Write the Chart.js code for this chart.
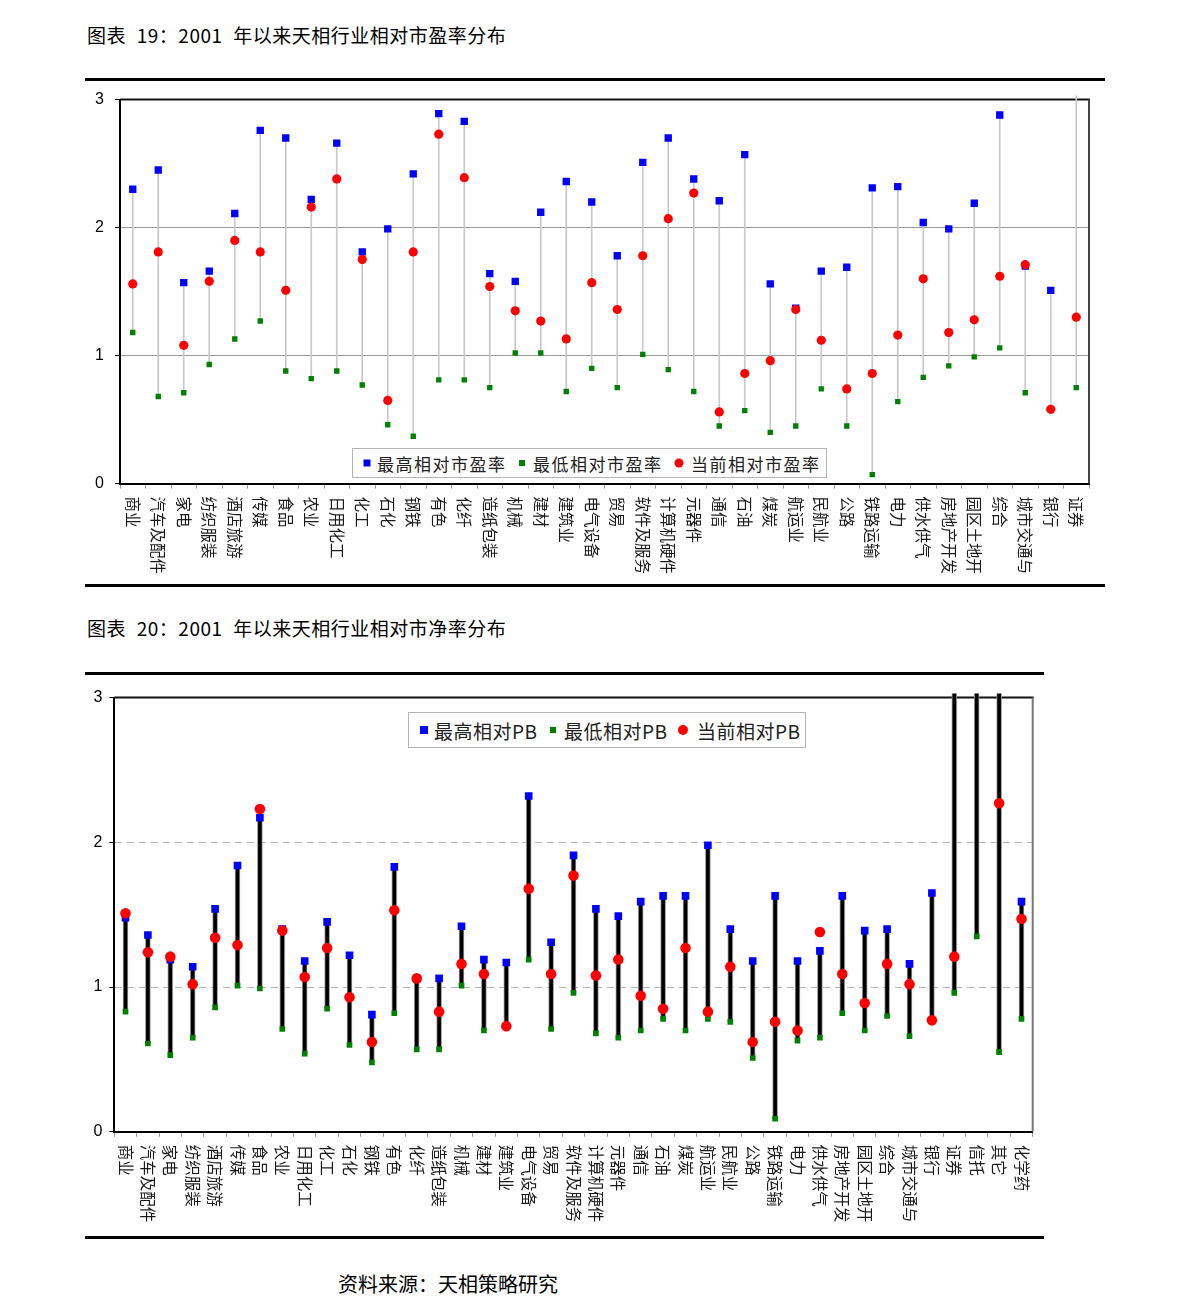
<!DOCTYPE html>
<html>
<head>
<meta charset="utf-8">
<script src="https://cdn.jsdelivr.net/npm/chart.js@4.4.0/dist/chart.umd.min.js"></script>
<style>
	body { margin: 0; background: #fff; width: 1191px; height: 1313px; position: relative; font-family: "Noto Sans CJK SC", sans-serif; }
	.title { position: absolute; left: 87px; font-size: 19px; line-height: 22px; color: #000; white-space: pre; letter-spacing: 0.5px; word-spacing: 6px; }
	.rule { position: absolute; left: 85px; height: 3px; background: #000; }
	canvas { position: absolute; }
	.legend { position: absolute; box-sizing: border-box; border: 1px solid #b4b4b4; background: #fff; z-index: 2; }
	.legend span { position: absolute; white-space: nowrap; color: #222; top: 50%; transform: translateY(-50%); }
	.legend i { position: absolute; top: 50%; transform: translate(-50%, -50%); }
</style>
</head>
<body>
<div class="title" style="top:24px">图表 19：2001 年以来天相行业相对市盈率分布</div>
<div class="rule" style="top:78px;width:1020px"></div>
<canvas id="peChart" width="1025" height="495" style="left:80px;top:88px"></canvas>
<div class="legend" style="left:352px;top:448px;width:475px;height:30px;font-size:17px;letter-spacing:1.5px">
	<i style="left:14px;width:7px;height:7px;background:#0000ff"></i><span style="left:24px">最高相对市盈率</span>
	<i style="left:169px;width:6px;height:6px;background:#008000"></i><span style="left:180px">最低相对市盈率</span>
	<i style="left:326px;width:9px;height:9px;border-radius:50%;background:#ff0000"></i><span style="left:338px">当前相对市盈率</span>
</div>
<div class="rule" style="top:584px;width:1020px"></div>

<div class="title" style="top:617px">图表 20：2001 年以来天相行业相对市净率分布</div>
<div class="rule" style="top:672px;width:959px"></div>
<canvas id="pbChart" width="965" height="550" style="left:80px;top:685px"></canvas>
<div class="legend" style="left:408px;top:712px;width:398px;height:36px;font-size:19px;letter-spacing:0.5px">
	<i style="left:15px;width:8px;height:8px;background:#0000ff"></i><span style="left:25px">最高相对PB</span>
	<i style="left:144px;width:6px;height:6px;background:#008000"></i><span style="left:155px">最低相对PB</span>
	<i style="left:274px;width:10px;height:10px;border-radius:50%;background:#ff0000"></i><span style="left:288px">当前相对PB</span>
</div>
<div class="rule" style="top:1236px;width:959px"></div>

<div class="title" style="left:338px;top:1273px;font-size:20px;letter-spacing:0;word-spacing:0">资料来源：天相策略研究</div>

<script>
	// 图表19 相对市盈率
	const peCategories = ["商业", "汽车及配件", "家电", "纺织服装", "酒店旅游", "传媒", "食品", "农业", "日用化工", "化工",
		"石化", "钢铁", "有色", "化纤", "造纸包装", "机械", "建材", "建筑业", "电气设备", "贸易",
		"软件及服务", "计算机硬件", "元器件", "通信", "石油", "煤炭", "航运业", "民航业", "公路", "铁路运输",
		"电力", "供水供气", "房地产开发", "园区土地开", "综合", "城市交通与", "银行", "证券"];
	const peHigh = [2.30, 2.45, 1.57, 1.66, 2.11, 2.76, 2.70, 2.22, 2.66, 1.81,
		1.99, 2.42, 2.89, 2.83, 1.64, 1.58, 2.12, 2.36, 2.20, 1.78,
		2.51, 2.70, 2.38, 2.21, 2.57, 1.56, 1.37, 1.66, 1.69, 2.31,
		2.32, 2.04, 1.99, 2.19, 2.88, 1.70, 1.51, 3.5];
	const peLow = [1.18, 0.68, 0.71, 0.93, 1.13, 1.27, 0.88, 0.82, 0.88, 0.77,
		0.46, 0.37, 0.81, 0.81, 0.75, 1.02, 1.02, 0.72, 0.90, 0.75,
		1.01, 0.89, 0.72, 0.45, 0.57, 0.40, 0.45, 0.74, 0.45, 0.07,
		0.64, 0.83, 0.92, 0.99, 1.06, 0.71, null, 0.75];
	const peNow = [1.56, 1.81, 1.08, 1.58, 1.90, 1.81, 1.51, 2.16, 2.38, 1.75,
		0.65, 1.81, 2.73, 2.39, 1.54, 1.35, 1.27, 1.13, 1.57, 1.36,
		1.78, 2.07, 2.27, 0.56, 0.86, 0.96, 1.36, 1.12, 0.74, 0.86,
		1.16, 1.60, 1.18, 1.28, 1.62, 1.71, 0.58, 1.30];

	// 图表20 相对市净率
	const pbCategories = ["商业", "汽车及配件", "家电", "纺织服装", "酒店旅游", "传媒", "食品", "农业", "日用化工", "化工",
		"石化", "钢铁", "有色", "化纤", "造纸包装", "机械", "建材", "建筑业", "电气设备", "贸易",
		"软件及服务", "计算机硬件", "元器件", "通信", "石油", "煤炭", "航运业", "民航业", "公路", "铁路运输",
		"电力", "供水供气", "房地产开发", "园区土地开", "综合", "城市交通与", "银行", "证券", "信托", "其它", "化学药"];
	const pbHigh = [1.48, 1.36, 1.19, 1.14, 1.54, 1.84, 2.17, 1.40, 1.18, 1.45,
		1.22, 0.81, 1.83, 1.06, 1.06, 1.42, 1.19, 1.17, 2.32, 1.31,
		1.91, 1.54, 1.49, 1.59, 1.63, 1.63, 1.98, 1.40, 1.18, 1.63,
		1.18, 1.25, 1.63, 1.39, 1.40, 1.16, 1.65, 3.5, 3.5, 3.5, 1.59];
	const pbLow = [0.83, 0.61, 0.53, 0.65, 0.86, 1.01, 0.99, 0.71, 0.54, 0.85,
		0.60, 0.48, 0.82, 0.57, 0.57, 1.01, 0.70, null, 1.19, 0.71,
		0.96, 0.68, 0.65, 0.70, 0.78, 0.70, 0.78, 0.76, 0.51, 0.09,
		0.63, 0.65, 0.82, 0.70, 0.80, 0.66, null, 0.96, 1.35, 0.55, 0.78];
	const pbNow = [1.51, 1.24, 1.21, 1.02, 1.34, 1.29, 2.23, 1.39, 1.07, 1.27,
		0.93, 0.62, 1.53, 1.06, 0.83, 1.16, 1.09, 0.73, 1.68, 1.09,
		1.77, 1.08, 1.19, 0.94, 0.85, 1.27, 0.83, 1.14, 0.62, 0.76,
		0.70, 1.38, 1.09, 0.89, 1.16, 1.02, 0.77, 1.21, null, 2.27, 1.47];

	const yTicks = [0, 1, 2, 3];

	// frame top + right of the plot area
	const framePlugin = {
		id: 'frame',
		beforeDatasetsDraw(chart, args, opts) {
			const { ctx, chartArea: a } = chart;
			ctx.save();
			ctx.lineWidth = 2;
			ctx.strokeStyle = opts.top;
			ctx.beginPath();
			ctx.moveTo(a.left, a.top);
			ctx.lineTo(a.right + 1, a.top);
			ctx.stroke();
			ctx.strokeStyle = opts.right;
			ctx.beginPath();
			ctx.moveTo(a.right, a.top);
			ctx.lineTo(a.right, a.bottom);
			ctx.stroke();
			ctx.restore();
		}
	};

	// category names written top to bottom under the axis
	const verticalLabels = {
		id: 'verticalLabels',
		afterDraw(chart, args, opts) {
			const { ctx } = chart;
			const x = chart.scales.x;
			ctx.save();
			ctx.font = opts.font;
			ctx.fillStyle = '#1a1a1a';
			ctx.textAlign = 'left';
			ctx.textBaseline = 'middle';
			chart.data.labels.forEach((label, i) => {
				ctx.save();
				ctx.translate(x.getPixelForValue(i), x.top + opts.gap);
				ctx.rotate(Math.PI / 2);
				ctx.fillText(label, 0, 0);
				ctx.restore();
			});
			ctx.restore();
		}
	};

	function pointSet(data, color, style, radius, order) {
		return {
			type: 'line',
			data: data,
			showLine: false,
			pointStyle: style,
			pointRadius: radius,
			pointHoverRadius: radius,
			pointBackgroundColor: color,
			pointBorderWidth: 0,
			order: order
		};
	}

	function buildChart(id, cfg) {
		const ranges = cfg.labels.map((_, i) => [cfg.low[i] ?? cfg.now[i], cfg.high[i]]);
		return new Chart(document.getElementById(id), {
			type: 'bar',
			data: {
				labels: cfg.labels,
				datasets: [
					Object.assign({
						data: ranges,
						clip: 4,
						order: 3
					}, cfg.bar),
					pointSet(cfg.low, '#008000', 'rect', cfg.sizes[1], 2),
					pointSet(cfg.high, '#0000ff', 'rect', cfg.sizes[0], 1),
					pointSet(cfg.now, '#ff0000', 'circle', cfg.sizes[2], 0)
				]
			},
			options: {
				responsive: false,
				animation: false,
				events: [],
				layout: { padding: cfg.padding },
				plugins: {
					legend: { display: false },
					tooltip: { enabled: false },
					frame: cfg.frame,
					verticalLabels: { font: '15.5px "Noto Sans CJK SC"', gap: 13 }
				},
				scales: {
					x: {
						offset: true,
						ticks: { display: false },
						grid: { display: true, drawOnChartArea: false, tickLength: 5, color: '#999' },
						border: { color: '#000', width: 2 },
						afterFit: (scale) => { scale.height = cfg.xHeight; }
					},
					y: {
						min: 0,
						max: 3,
						afterBuildTicks: (scale) => { scale.ticks = yTicks.map(v => ({ value: v })); },
						ticks: {
							color: '#000',
							padding: cfg.tickPad,
							font: { family: '"Liberation Sans", Arial', size: 16 }
						},
						grid: { color: cfg.gridColor, tickLength: 5, tickColor: '#000' },
						border: { color: '#000', width: 2, dash: cfg.dash },
						afterFit: (scale) => { scale.width = cfg.yWidth; }
					}
				}
			},
			plugins: [framePlugin, verticalLabels]
		});
	}

	// keep the plot area where the picture has it (top edge in canvas px)
	function pinTop(chart, cfg) {
		for (let k = 0; k < 4; k++) {
			const diff = chart.chartArea.top - cfg.areaTop;
			if (Math.abs(diff) < 0.25) return;
			const pad = chart.options.layout.padding;
			if (pad.top - diff < 0) break;
			pad.top -= diff;
			chart.update();
		}
		const rest = chart.chartArea.top - cfg.areaTop;
		if (Math.abs(rest) >= 0.25) {
			const canvas = chart.canvas;
			canvas.style.top = (parseFloat(canvas.style.top) - rest) + 'px';
			cfg.xHeight -= rest;
			chart.update();
		}
	}

	window.addEventListener('DOMContentLoaded', () => {
		const peCfg = {
			labels: peCategories,
			high: peHigh,
			low: peLow,
			now: peNow,
			sizes: [5.2, 3.8, 4.6],
			bar: { backgroundColor: '#c8c8c8', barThickness: 1 },
			padding: { top: 12, right: 16, left: 0, bottom: 0 },
			areaTop: 12,
			xHeight: 99,
			yWidth: 40,
			tickPad: 11,
			gridColor: '#9a9a9a',
			dash: [],
			frame: { top: '#111', right: '#444' }
		};
		pinTop(buildChart('peChart', peCfg), peCfg);

		const pbCfg = {
			labels: pbCategories,
			high: pbHigh,
			low: pbLow,
			now: pbNow,
			sizes: [5.4, 4, 5.3],
			bar: {
				backgroundColor: '#000',
				borderColor: '#9a9a9a',
				borderWidth: { left: 1, right: 1, top: 0, bottom: 0 },
				borderSkipped: false,
				barThickness: 5
			},
			padding: { top: 12.3, right: 12.3, left: 0, bottom: 0 },
			areaTop: 12.3,
			xHeight: 103.5,
			yWidth: 34.3,
			tickPad: 7,
			gridColor: '#b4b4b4',
			dash: [7, 5],
			frame: { top: '#111', right: '#777' }
		};
		pinTop(buildChart('pbChart', pbCfg), pbCfg);
	});
</script>
</body>
</html>
